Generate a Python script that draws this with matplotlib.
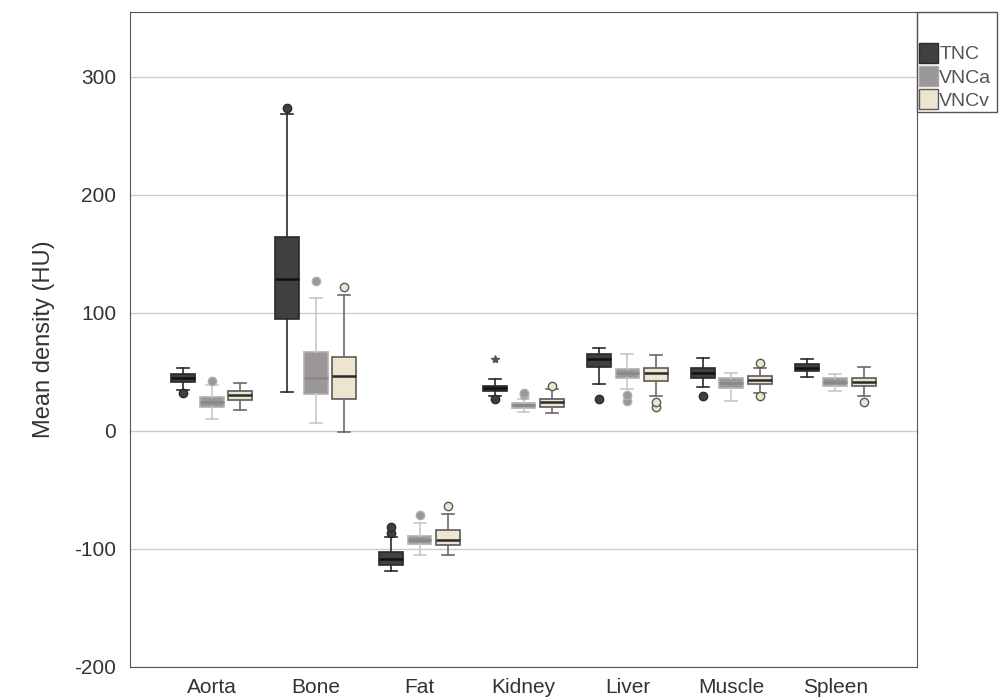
import numpy as np
import matplotlib.pyplot as plt
from matplotlib.patches import Patch, Rectangle

plt.rcParams['font.family'] = ['Liberation Sans', 'DejaVu Sans']
plt.rcParams['axes.unicode_minus'] = False

categories = ['Aorta', 'Bone', 'Fat', 'Kidney', 'Liver', 'Muscle', 'Spleen']
series = ['TNC', 'VNCa', 'VNCv']

# per series, per category: (whislo, q1, med, q3, whishi)
tnc_stats = [
    (35, 41.5, 44.9, 48, 53),
    (32.8, 95.2, 128.5, 164.7, 268.4),
    (-119, -113.6, -108.8, -103, -90),
    (29.7, 33.9, 36.2, 38.4, 43.8),
    (39.8, 54.5, 60.7, 65.3, 70),
    (37.6, 44.6, 49.4, 53.1, 62.1),
    (46, 50.8, 53.5, 56.5, 61),
]
vnca_stats = [
    (9.9, 20.6, 24.3, 28.5, 39),
    (7, 31.1, 45.2, 66.7, 113),
    (-105, -95.8, -92, -88.7, -78),
    (15.8, 19.8, 22, 24, 26.8),
    (35.6, 44.6, 48.9, 52.5, 65.3),
    (25.7, 36.7, 40.5, 44.6, 48.9),
    (33.9, 38.4, 41.5, 44.6, 48),
]
vncv_stats = [
    (17.8, 26.3, 30.2, 33.9, 41),
    (-1.1, 27.1, 46.9, 63, 115),
    (-105, -96.6, -92, -83.9, -70),
    (15, 20.6, 24.6, 26.8, 35.6),
    (29.7, 42.4, 48.9, 53.7, 64),
    (32.5, 39.8, 43.2, 46.9, 53.1),
    (29.7, 38.4, 41.8, 45.2, 54),
]
tnc_outliers = [[32], [273.5], [-86.7, -81], [26.8], [26.8], [29.7], []]
vnca_outliers = [[42.6], [127], [-71.5], [30.5, 32.5], [25.7, 30.5], [], []]
vncv_outliers = [[], [122], [-64], [38.4], [20, 24.9], [29.7, 57.4], [24.9]]
extremes = {('TNC', 'Kidney'): [60.7]}

fills = ['#3f4042', '#9b9797', '#ede5cf']
edges = ['#2a2a2a', '#b0b0b0', '#5a5a5a']
whisk = ['#2a2a2a', '#c8c8c8', '#6a6a6a']
meds = ['#111111', '#8a8787', '#2a2a2a']

fig = plt.figure(figsize=(10, 6.99), dpi=100)
ax = fig.add_axes([0.13, 0.0458, 0.787, 0.9372])

x = np.arange(len(categories))
offset = 0.274
width = 0.23
all_stats = [tnc_stats, vnca_stats, vncv_stats]
all_out = [tnc_outliers, vnca_outliers, vncv_outliers]

for s, name in enumerate(series):
    stats = []
    for c, cat in enumerate(categories):
        lo, q1, med, q3, hi = all_stats[s][c]
        stats.append(dict(whislo=lo, q1=q1, med=med, q3=q3, whishi=hi,
                          fliers=all_out[s][c], label=cat))
    pos = x + (s - 1) * offset
    ax.bxp(stats, positions=pos, widths=width, patch_artist=True,
           showfliers=True, manage_ticks=False,
           boxprops=dict(facecolor=fills[s], edgecolor=edges[s], linewidth=1.2),
           medianprops=dict(color=meds[s], linewidth=1.8),
           whiskerprops=dict(color=whisk[s], linewidth=1.2),
           capprops=dict(color=whisk[s], linewidth=1.2),
           capwidths=width * 0.5,
           flierprops=dict(marker='o', markersize=6, markerfacecolor=fills[s],
                           markeredgecolor=edges[s], markeredgewidth=1.0))
    for (nm, cat), vals in extremes.items():
        if nm == name:
            ci = categories.index(cat)
            ax.plot([pos[ci]] * len(vals), vals, marker='*', color='#555555',
                    linestyle='none', markersize=6)

ax.set_xlim(-0.785, 6.785)
ax.set_ylim(-200, 355)
ax.set_yticks([-200, -100, 0, 100, 200, 300])
ax.set_xticks(x)
ax.set_xticklabels(categories, fontsize=15, color='#333333')
ax.tick_params(axis='y', labelsize=15, colors='#333333', length=0, pad=10)
ax.tick_params(axis='x', length=0, pad=8)
ax.yaxis.grid(True, color='#cccccc', linewidth=1)
ax.set_axisbelow(True)
for sp in ax.spines.values():
    sp.set_color('#555555')
ax.set_ylabel('Mean density (HU)', fontsize=17, color='#333333', labelpad=14)

handles = [Patch(facecolor=fills[i], edgecolor=edges[i] if i != 1 else '#aaaaaa',
                 label=series[i]) for i in range(3)]
leg = fig.legend(handles=handles, loc='upper left',
                 bbox_to_anchor=(0.909, 0.953), frameon=False, fontsize=14,
                 handlelength=1.0, handleheight=1.2, handletextpad=0.05,
                 labelspacing=0.15, borderpad=0)
for t in leg.get_texts():
    t.set_color('#555555')
fig.add_artist(Rectangle((0.917, 1 - 112 / 699), 0.08, (112 - 12) / 699,
                         transform=fig.transFigure, fill=False,
                         edgecolor='#555555', linewidth=1))

fig.savefig('out.png', dpi=100)
